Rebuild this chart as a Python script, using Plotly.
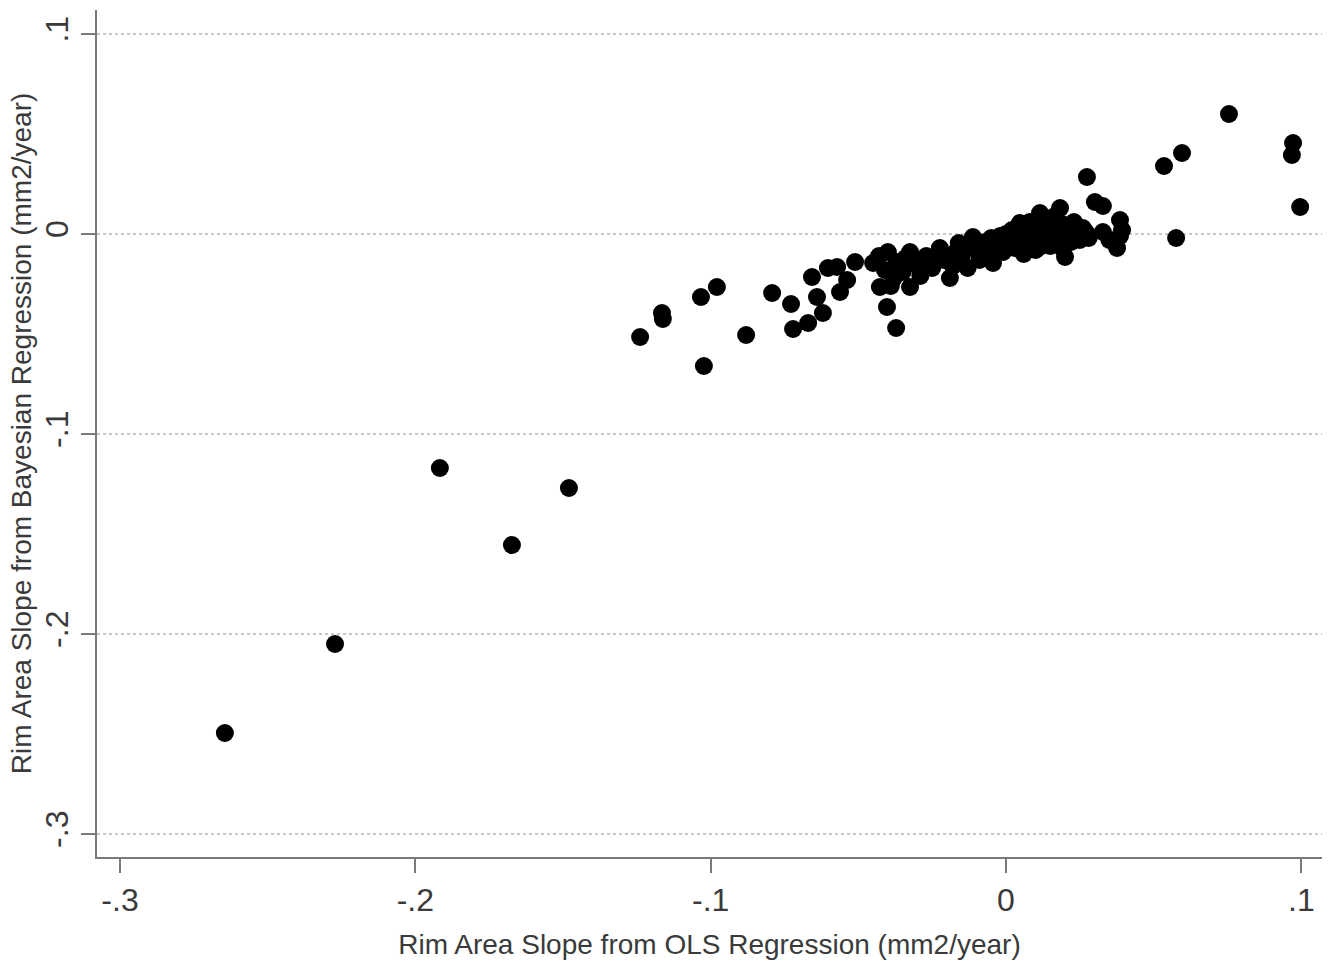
import plotly.graph_objects as go

# OLS slope (x) vs Bayesian slope (y), mm2/year
outlier_x = [-0.2645, -0.2272, -0.1917, -0.1673, -0.148, -0.1239, -0.1162, -0.1165,
             -0.1033, -0.0979, -0.1023, -0.088, -0.0792, -0.0728, -0.0721, -0.067,
             -0.0657, -0.064, -0.062, -0.0603, -0.0562, -0.0538, -0.0511, -0.0572,
             -0.0403, -0.0372]
outlier_y = [-0.2495, -0.205, -0.117, -0.1555, -0.127, -0.0515, -0.0425, -0.0395,
             -0.0315, -0.0265, -0.066, -0.0505, -0.0295, -0.035, -0.0475, -0.0445,
             -0.0215, -0.0315, -0.0395, -0.017, -0.029, -0.023, -0.014, -0.0165,
             -0.0365, -0.047]

right_x = [0.0755, 0.0972, 0.0968, 0.0996, 0.0596, 0.0535, 0.0576, 0.0274, 0.0301,
           0.0328, 0.0376, 0.0386, 0.0328, 0.0393, 0.035, 0.0386]
right_y = [0.06, 0.0455, 0.0395, 0.0135, 0.0405, 0.034, -0.002, 0.0285, 0.016,
           0.014, -0.007, 0.007, 0.001, 0.002, -0.003, -0.001]

cluster_x = [-0.045, -0.0427, -0.041, -0.04, -0.038, -0.037, -0.035, -0.0325, -0.0325,
             -0.031, -0.029, -0.027, -0.025, -0.0224, -0.021, -0.019, -0.018, -0.016,
             -0.015, -0.013, -0.0112, -0.010, -0.009, -0.007, -0.006, -0.0044, -0.003,
             -0.002, -0.001, 0.001, 0.002, 0.003, 0.0047, 0.005, 0.006, 0.007, 0.008,
             0.009, 0.010, 0.0115, 0.012, 0.013, 0.014, 0.015, 0.016, 0.0165, 0.0183,
             0.018, 0.019, 0.02, 0.021, 0.022, 0.023, 0.024, 0.025, 0.026, -0.043,
             -0.039, -0.034, -0.028, -0.023, -0.017, -0.012, -0.005, 0.0, 0.004, 0.011,
             0.017, 0.027, 0.028, 0.012, 0.015, 0.019, 0.008]
cluster_y = [-0.0145, -0.0265, -0.018, -0.009, -0.022, -0.014, -0.019, -0.0265, -0.009,
             -0.015, -0.021, -0.011, -0.017, -0.007, -0.013, -0.022, -0.016, -0.0045,
             -0.011, -0.017, -0.0015, -0.008, -0.013, -0.004, -0.010, -0.0145, -0.006,
             -0.001, -0.009, -0.004, 0.002, -0.007, 0.0055, -0.001, -0.010, 0.003, -0.005,
             0.000, -0.008, 0.0105, 0.004, -0.003, 0.007, -0.006, 0.001, 0.009, 0.013,
             -0.002, 0.005, -0.0115, 0.002, -0.004, 0.006, 0.000, -0.003, 0.003, -0.011,
             -0.026, -0.012, -0.016, -0.010, -0.009, -0.005, -0.002, 0.000, 0.003, 0.001,
             0.004, 0.001, -0.002, -0.006, 0.004, -0.007, 0.006]

xs = outlier_x + cluster_x + right_x
ys = outlier_y + cluster_y + right_y

x_ticks = [-0.3, -0.2, -0.1, 0, 0.1]
x_labels = ["-.3", "-.2", "-.1", "0", ".1"]
y_ticks = [-0.3, -0.2, -0.1, 0, 0.1]
y_labels = ["-.3", "-.2", "-.1", "0", ".1"]

fig = go.Figure()
fig.add_trace(go.Scatter(
    x=xs, y=ys, mode="markers",
    marker=dict(color="black", size=18, line=dict(width=0)),
    showlegend=False,
))

axis_color = "#7a7a7a"
font_color = "#3a3a3a"
fig.update_layout(
    width=1332, height=965,
    margin=dict(l=97, r=10, t=10, b=108),
    paper_bgcolor="white", plot_bgcolor="white",
    font=dict(family="Liberation Sans, Arial, sans-serif", color=font_color),
    xaxis=dict(
        range=[-0.3078, 0.107],
        tickvals=x_ticks, ticktext=x_labels,
        ticks="outside", ticklen=14, tickwidth=1.5, tickcolor=axis_color,
        showline=True, linecolor=axis_color, linewidth=1.5,
        showgrid=False, zeroline=False,
        tickfont=dict(size=32, color=font_color),
        title=dict(text="Rim Area Slope from OLS Regression (mm2/year)",
                   font=dict(size=28, color=font_color), standoff=17),
    ),
    yaxis=dict(
        range=[-0.3115, 0.112],
        tickvals=y_ticks, ticktext=y_labels, tickangle=-90,
        ticks="outside", ticklen=14, tickwidth=1.5, tickcolor=axis_color,
        showline=True, linecolor=axis_color, linewidth=1.5,
        showgrid=True, gridcolor="#c8c8c8", gridwidth=1.5, griddash="dot",
        zeroline=False,
        tickfont=dict(size=32, color=font_color),
        title=dict(text="Rim Area Slope from Bayesian Regression (mm2/year)",
                   font=dict(size=28, color=font_color), standoff=0),
    ),
)

fig.write_html("out.html")
